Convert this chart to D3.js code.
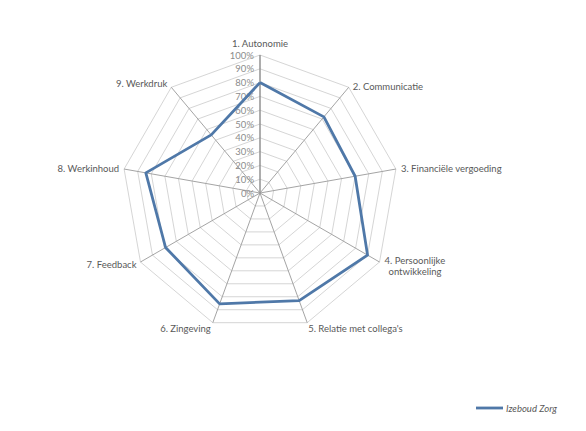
<!DOCTYPE html>
<html><head><meta charset="utf-8">
<script src="https://cdn.jsdelivr.net/npm/d3@7"></script>
<style>body{margin:0;background:#fff}svg{display:block}text{font-family:Lato,"Open Sans",sans-serif}</style>
</head><body>
<svg id="c" width="586" height="431"></svg>
<script>
const categories = ["1. Autonomie","2. Communicatie","3. Financiële vergoeding","4. Persoonlijke ontwikkeling","5. Relatie met collega's","6. Zingeving","7. Feedback","8. Werkinhoud","9. Werkdruk"];
const seriesName = "Izeboud Zorg";
const values = [0.80, 0.72, 0.70, 0.90, 0.83, 0.855, 0.79, 0.84, 0.55];
const ticks = [0,0.1,0.2,0.3,0.4,0.5,0.6,0.7,0.8,0.9,1.0];

const svg = d3.select("#c");
const cx = 260, cy = 193, R = 138;
const r = d3.scaleLinear().domain([0,1]).range([0,R]);
const n = categories.length;
const ang = d3.scaleLinear().domain([0,n]).range([0,2*Math.PI]);
const pt = (i,v)=>[cx + r(v)*Math.sin(ang(i)), cy - r(v)*Math.cos(ang(i))];

// rings
ticks.slice(1).forEach(t=>{
  svg.append("path")
    .attr("d", d3.line()(d3.range(n+1).map(i=>pt(i%n,t))))
    .attr("fill","none").attr("stroke","#d0d0d0").attr("stroke-width",0.9);
});
// spokes
d3.range(n).forEach(i=>{
  const [x,y]=pt(i,1);
  svg.append("line").attr("x1",cx).attr("y1",cy).attr("x2",x).attr("y2",y)
    .attr("stroke", i===0?"#8a8a8a":"#9a9a9a").attr("stroke-width", i===0?1.4:0.9);
});
// tick labels
ticks.forEach(t=>{
  svg.append("text").attr("x",cx-6).attr("y",cy - r(t)+3.5)
    .attr("text-anchor","end").attr("font-size",9.5).attr("fill","#8c8c8c")
    .text(d3.format(".0%")(t));
});
// series
svg.append("path")
  .attr("d", d3.line()(d3.range(n+1).map(i=>pt(i%n, values[i%n]))))
  .attr("fill","none").attr("stroke","#4f78a8").attr("stroke-width",2.8).attr("stroke-linejoin","round");

// category labels
const labelCfg = [
  {dx:0,dy:-8,anchor:"middle"},
  {dx:4,dy:3,anchor:"start"},
  {dx:5,dy:3,anchor:"start"},
  {dx:5,dy:2,anchor:"start"},
  {dx:1,dy:9.5,anchor:"start"},
  {dx:-2,dy:9.5,anchor:"end"},
  {dx:-4,dy:6,anchor:"end"},
  {dx:-5,dy:3,anchor:"end"},
  {dx:-4,dy:0,anchor:"end"}
];
categories.forEach((c,i)=>{
  const [x,y]=pt(i,1);
  const cfg=labelCfg[i];
  const t=svg.append("text").attr("x",x+cfg.dx).attr("y",y+cfg.dy)
    .attr("text-anchor",cfg.anchor).attr("font-size",9.5).attr("fill","#595959");
  if(i===3){
    t.append("tspan").attr("x",x+cfg.dx).text("4. Persoonlijke");
    t.append("tspan").attr("x",x+cfg.dx+4).attr("dy",10.5).text("ontwikkeling");
  } else t.text(c);
});

// legend
svg.append("line").attr("x1",476).attr("x2",503).attr("y1",408).attr("y2",408)
  .attr("stroke","#4f78a8").attr("stroke-width",2.8);
svg.append("text").attr("x",506).attr("y",411.5).attr("font-size",9.5)
  .attr("font-style","italic").attr("fill","#595959").text(seriesName);
</script>
</body></html>
